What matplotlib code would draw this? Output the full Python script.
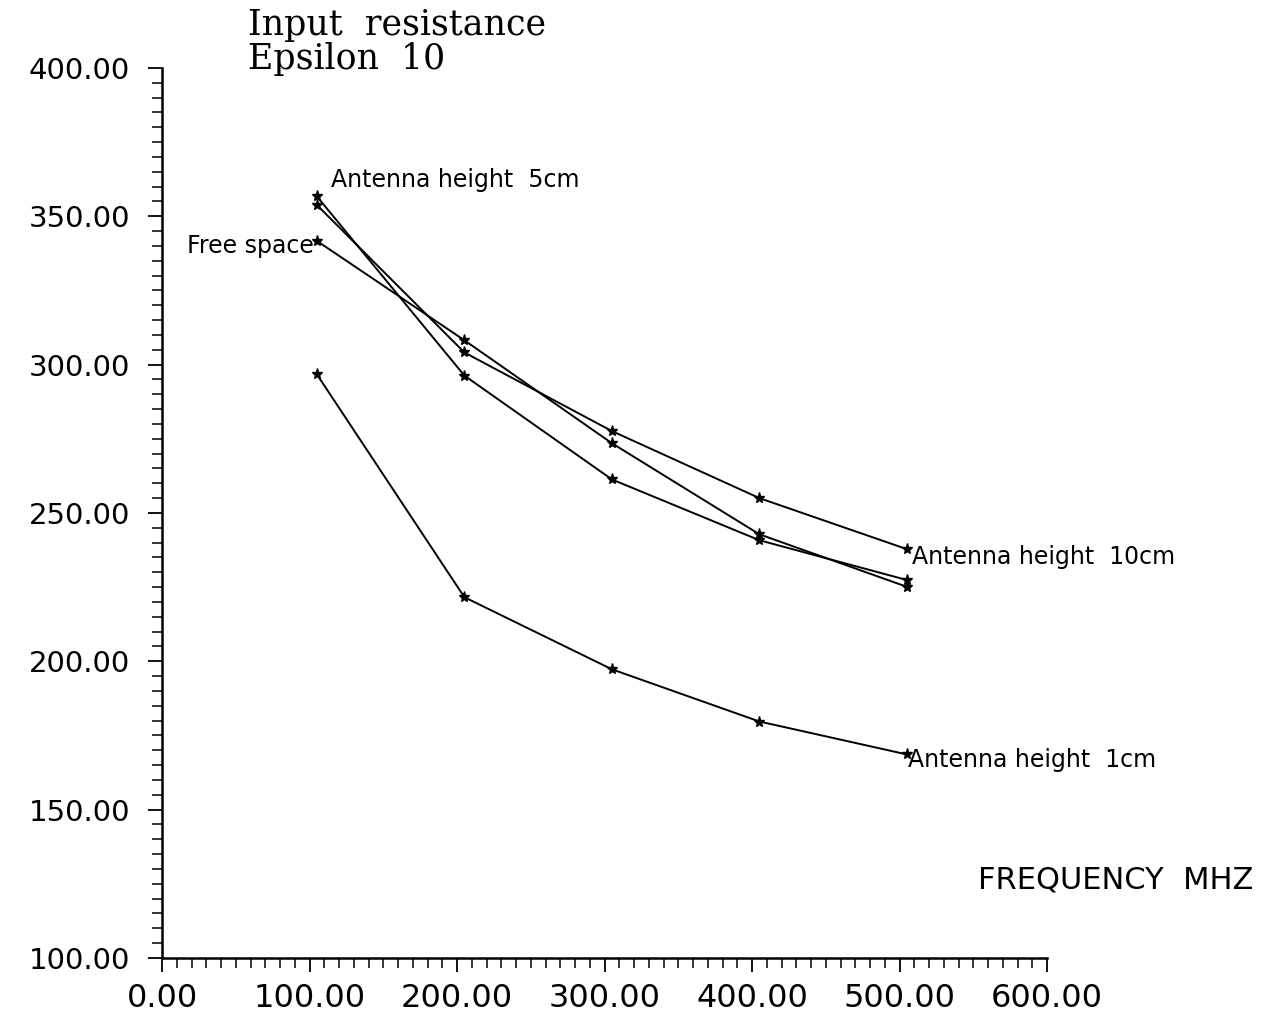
import matplotlib
matplotlib.use("Agg")
import matplotlib.pyplot as plt
from matplotlib.ticker import MultipleLocator, FormatStrFormatter

# Frequencies (MHz) of the computed points
freq = [105, 205, 305, 405, 505]

# Input resistance (ohm) for each configuration
r_height_5cm = [356.7, 296.3, 261.3, 240.8, 227.4]
r_height_10cm = [353.8, 304.1, 277.6, 255.0, 237.8]
r_free_space = [341.7, 308.2, 273.5, 242.8, 225.1]
r_height_1cm = [296.7, 221.6, 197.3, 179.7, 168.6]

x_ticks = [0, 100, 200, 300, 400, 500, 600]
y_ticks = [100, 150, 200, 250, 300, 350, 400]

fig = plt.figure(figsize=(12.8, 10.19), dpi=100)
ax = fig.add_axes([0.1266, 0.0599, 0.6914, 0.8734])

series = [r_height_5cm, r_height_10cm, r_free_space, r_height_1cm]
for r in series:
    ax.plot(freq, r, color="black", lw=1.4, marker="*", ms=8,
            mec="black", mfc="black", clip_on=False)

ax.set_xlim(0, 600)
ax.set_ylim(100, 400)
ax.set_xticks(x_ticks)
ax.set_yticks(y_ticks)

for side in ("top", "right"):
    ax.spines[side].set_visible(False)
for side in ("left", "bottom"):
    ax.spines[side].set_linewidth(1.8)

ax.xaxis.set_minor_locator(MultipleLocator(10))
ax.yaxis.set_minor_locator(MultipleLocator(5))
ax.xaxis.set_major_formatter(FormatStrFormatter("%.2f"))
ax.yaxis.set_major_formatter(FormatStrFormatter("%.2f"))

ax.tick_params(axis="both", which="major", direction="out", length=10,
               width=1.3, color="black")
ax.tick_params(axis="both", which="minor", direction="out", length=7,
               width=1.1, color="black")
ax.tick_params(axis="y", which="major", labelsize=21, pad=13)
ax.tick_params(axis="x", which="major", labelsize=23, pad=8)

# Title block
fig.text(0.194, 0.992, "Input  resistance\nEpsilon  10", family="DejaVu Serif",
         fontsize=25, ha="left", va="top", linespacing=1.0)

# Curve labels
ax.annotate("Antenna height  5cm", xy=(freq[0], r_height_5cm[0]),
            xytext=(10, 12), textcoords="offset points", fontsize=17,
            ha="left", va="center")
ax.annotate("Free space", xy=(freq[0], r_free_space[0]),
            xytext=(-2, -4), textcoords="offset points", fontsize=17,
            ha="right", va="center")
ax.annotate("Antenna height  10cm", xy=(freq[-1], r_height_10cm[-1]),
            xytext=(4, -6), textcoords="offset points", fontsize=17,
            ha="left", va="center")
ax.annotate("Antenna height  1cm", xy=(freq[-1], r_height_1cm[-1]),
            xytext=(1, -4), textcoords="offset points", fontsize=17,
            ha="left", va="center")

fig.text(0.764, 0.136, "FREQUENCY  MHZ", fontsize=22, ha="left", va="center")

fig.savefig("out.png", dpi=100, facecolor="white")
